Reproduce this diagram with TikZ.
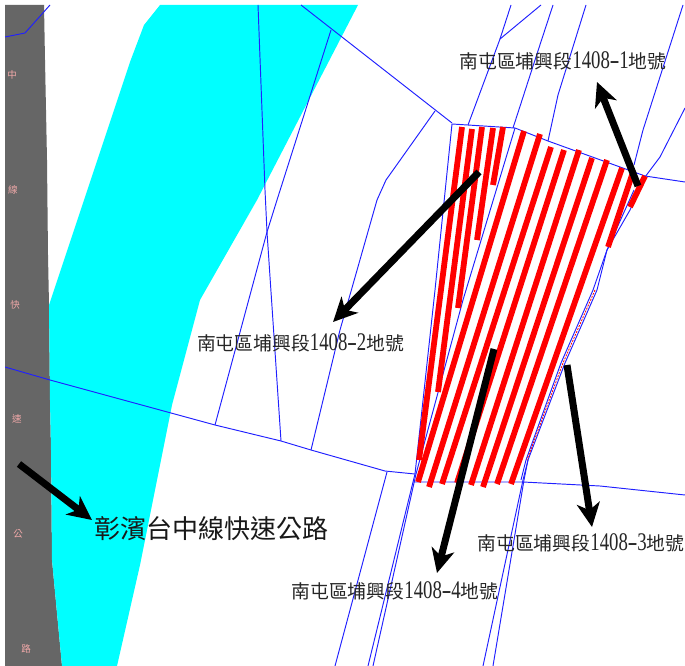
\documentclass[tikz,border=0pt]{standalone}
\usepackage{fontspec}
\setmainfont{Liberation Serif}
\newfontfamily\cjkfont{Noto Sans CJK TC}
\usetikzlibrary{arrows.meta}
\definecolor{roadgray}{HTML}{666666}
\definecolor{roadpink}{HTML}{F2A9A9}
\definecolor{zonecyan}{HTML}{00FFFF}
\definecolor{parcelblue}{HTML}{2020FF}
\definecolor{hatchred}{HTML}{FF0000}
\newcommand{\lotname}[1]{\fontsize{18.8}{19}\selectfont{\cjkfont 南屯區埔興段}\scalebox{1}[1.35]{1408\makebox[9.5pt]{\scalebox{1.6}[1]{-}}#1}{\cjkfont 地號}}
\tikzset{
  x=1pt,y=-1pt,
  parcel/.style={draw=parcelblue,line width=0.95pt,line join=round},
  stripe/.style={draw=hatchred,line width=5.8pt},
  pointer/.style={draw=black,line width=7pt,-{Stealth[length=24pt,width=23pt,inset=7pt]}},
  lotlabel/.style={inner sep=0pt,text=black!85},
  roadchar/.style={inner sep=0pt,text=roadpink,font=\fontsize{9.5}{9.5}\selectfont\cjkfont},
}
\begin{document}
\begin{tikzpicture}
\useasboundingbox (0,0) rectangle (685,666);
\fill[white] (0,0) rectangle (685,666);
\begin{scope}
\clip (5,5) rectangle (685,666);
% road and zone
\fill[roadgray] (5,5) -- (44,5) -- (45,60) -- (46,110) -- (47,160) -- (48,255) -- (49,305) -- (50,400) -- (51,450) -- (52,560) -- (62,666) -- (5,666) -- cycle;
\fill[zonecyan] (160,5) -- (144,25) -- (130,62) -- (49,305) -- (50,400) -- (51,450) -- (52,560) -- (62,666) -- (117,666) -- (140,565) -- (172,405) -- (200,300) -- (257,200) -- (358,5) -- cycle;
% parcel lines
\draw[parcel] (5,37) -- (25,33) -- (50,5);
\draw[parcel] (5,367) -- (50,380) -- (215,425) -- (281,441) -- (311,450) -- (385,471) -- (415,474);
\draw[parcel] (301,5) -- (452,123);
\draw[parcel] (258,5) -- (265,190) -- (267,232) -- (281,441);
\draw[parcel] (331,30) -- (277,200) -- (267,232) -- (215,425);
\draw[parcel] (435,111) -- (386,180) -- (377,200) -- (340,330) -- (311,450);
\draw[parcel] (452,124) -- (435,290) -- (415,474) -- (413,482) -- (368,666);
\draw[parcel] (515,128) -- (463,300) -- (416,474) -- (373,666);
\draw[parcel] (452,124) -- (515,128) -- (548,141) -- (645,176) -- (685,182);
\draw[parcel] (511,5) -- (500,39) -- (468,125);
\draw[parcel] (541,5) -- (500,39);
\draw[parcel] (553,5) -- (535,60) -- (513,128);
\draw[parcel] (586,5) -- (558,95) -- (548,141);
\draw[parcel] (683,5) -- (643,130) -- (634,165);
\draw[parcel] (685,108) -- (660,157) -- (645,177);
\draw[parcel] (413,482) -- (523,482) -- (600,486) -- (685,495);
\draw[parcel] (387,472) -- (335,666);
\draw[parcel] (645,176) -- (630,210) -- (607,250) -- (597,290) -- (565,363) -- (528,460) -- (523,480) -- (483,666);
\draw[parcel] (634,190) -- (607,250) -- (593,290) -- (561,363) -- (526,460) -- (521,480);
\draw[parcel] (528,460) -- (524,480) -- (493,666);
% thin hatching in the sliver
\draw[hatchred,line width=0.8pt,dash pattern=on 2pt off 1.2pt] (595,290) -- (563,363) -- (527,460);
% red stripes, left group
\draw[stripe] (462,127) -- (419,460);
\draw[stripe] (472,129) -- (438,392);
\draw[stripe] (482,127) -- (458,308);
\draw[stripe] (493,128) -- (477,240);
\draw[stripe] (503,127) -- (493,185);
% red stripes, main group
\draw[stripe] (524,131) -- (418,482);
\draw[stripe] (540,134) -- (429,487);
\draw[stripe] (551,147) -- (442,484);
\draw[stripe] (564,150) -- (457,483);
\draw[stripe] (579,150) -- (471,485);
\draw[stripe] (592,158) -- (483,487);
\draw[stripe] (607,160) -- (497,484);
\draw[stripe] (622,168) -- (511,484);
\draw[stripe] (632,175) -- (608,247);
\draw[stripe] (645,176) -- (630,207);
\end{scope}
% road lettering
\node[roadchar] (r1) at (12,75) {中};
\node[roadchar] (r2) at (13,190) {線};
\node[roadchar] (r3) at (15,305) {快};
\node[roadchar] (r4) at (17,419) {速};
\node[roadchar] (r5) at (18,534) {公};
\node[roadchar] (r6) at (26,649) {路};
% labels
\node[lotlabel] (lot1) at (563,61) {\lotname{1}};
\node[lotlabel] (lot2) at (300.5,343) {\lotname{2}};
\node[lotlabel] (lot3) at (581,543) {\lotname{3}};
\node[lotlabel] (lot4) at (395,591) {\lotname{4}};
\node[inner sep=0pt,text=black!90,font=\fontsize{26}{26}\selectfont\cjkfont] (road) at (211.5,529) {彰濱台中線快速公路};
% pointers
\coordinate (a1s) at (638,186); \coordinate (a1e) at (597,82);
\coordinate (a2s) at (479,172); \coordinate (a2e) at (333,322);
\coordinate (a3s) at (567,365); \coordinate (a3e) at (592,527);
\coordinate (a4s) at (494,349); \coordinate (a4e) at (437,573);
\coordinate (a5s) at (19,464); \coordinate (a5e) at (92,520);
\draw[pointer] (a1s) -- (a1e);
\draw[pointer] (a2s) -- (a2e);
\draw[pointer] (a3s) -- (a3e);
\draw[pointer] (a4s) -- (a4e);
\draw[pointer] (a5s) -- (a5e);
\end{tikzpicture}
\end{document}
